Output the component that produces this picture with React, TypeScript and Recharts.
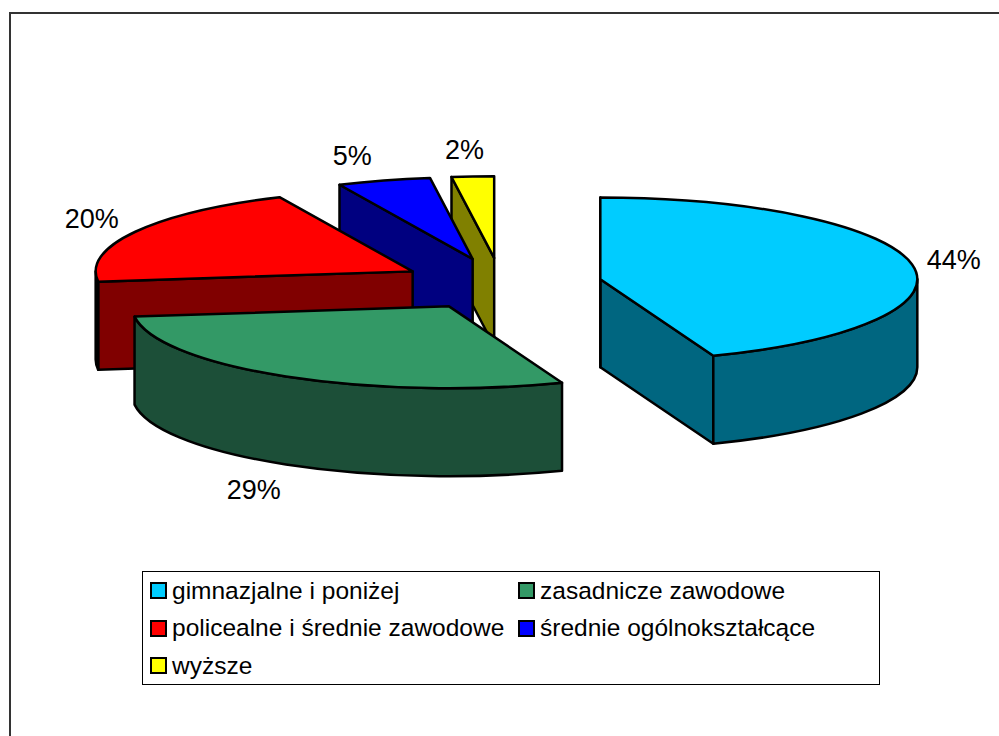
import { Legend, Pie, PieChart } from "recharts";

// drawn back to front, so the order is the reverse of the legend
const categories = [
  "wyższe",
  "średnie ogólnokształcące",
  "policealne i średnie zawodowe",
  "zasadnicze zawodowe",
  "gimnazjalne i poniżej",
];
// the labels show them rounded
const shares = [2.15, 4.75, 20.1, 28.8, 44.2];
const topColors = ["#FFFF00", "#0000FF", "#FF0000", "#339966", "#00CCFF"];
const sideColors = ["#808000", "#000080", "#800000", "#1C4F38", "#006680"];

const legendOrder = [4, 3, 2, 1, 0];

const data = categories.map((name, i) => ({
  name,
  value: shares[i],
  fill: topColors[i],
  side: sideColors[i],
}));

const FONT = "'Liberation Sans', Arial, sans-serif";
const SQUASH = 0.258;
const DEPTH = 88;
const EXPLODE = 0.3186;
const RAD = Math.PI / 180;

// the pie is squashed into an ellipse, each slice pulled out along its middle
function geometry(props: any) {
  const { cx, cy, outerRadius, startAngle, endAngle } = props;
  let a1 = 90 - endAngle;
  let a2 = 90 - startAngle;
  if (a1 < 0) {
    a1 += 360;
    a2 += 360;
  }
  const rx = outerRadius;
  const ry = outerRadius * SQUASH;
  const mid = ((a1 + a2) / 2) * RAD;
  const ax = cx + rx * EXPLODE * Math.sin(mid);
  const ay = cy - ry * EXPLODE * Math.cos(mid);
  const at = (deg: number) => ({
    x: ax + rx * Math.sin(deg * RAD),
    y: ay - ry * Math.cos(deg * RAD),
  });
  return { a1, a2, rx, ry, ax, ay, at, mid };
}

function Slice3D(props: any) {
  const { a1, a2, rx, ry, ax, ay, at } = geometry(props);
  const fill = props.fill;
  const side = props.payload?.side ?? props.side;
  const line = { stroke: "#000", strokeWidth: 2.5, strokeLinejoin: "round" as const };

  const wall = (deg: number) => {
    const p = at(deg);
    return `M${ax},${ay} L${p.x},${p.y} L${p.x},${p.y + DEPTH} L${ax},${ay + DEPTH} Z`;
  };

  // only the lower half of the rim can be seen
  const from = Math.max(a1, 90);
  const to = Math.min(a2, 270);
  let rim = "";
  if (to > from) {
    const p = at(from);
    const q = at(to);
    rim =
      `M${p.x},${p.y} A${rx},${ry} 0 0 1 ${q.x},${q.y} ` +
      `L${q.x},${q.y + DEPTH} A${rx},${ry} 0 0 0 ${p.x},${p.y + DEPTH} Z`;
  }

  const p1 = at(a1);
  const p2 = at(a2);
  const large = a2 - a1 > 180 ? 1 : 0;
  const top = `M${ax},${ay} L${p1.x},${p1.y} A${rx},${ry} 0 ${large} 1 ${p2.x},${p2.y} Z`;

  return (
    <g>
      {Math.sin(a1 * RAD) < -0.001 && <path d={wall(a1)} fill={side} {...line} />}
      {Math.sin(a2 * RAD) > 0.001 && <path d={wall(a2)} fill={side} {...line} />}
      {Math.abs(a1) < 0.001 && <path d={wall(a1)} fill={side} {...line} />}
      {rim && <path d={rim} fill={side} {...line} />}
      <path d={top} fill={fill} {...line} />
    </g>
  );
}

function SliceLabel(props: any) {
  const { at, a1, a2, mid } = geometry(props);
  const deg = (a1 + a2) / 2;
  const edge = at(deg);
  const sin = Math.sin(mid);
  const cos = Math.cos(mid);
  const spread = Math.max(-1, Math.min(1, sin * 4));
  // upper-left labels sit a little further out
  const lean = cos > 0 ? 4 * Math.min(0, spread) : 0;
  const x = edge.x + sin * 20 + spread * 22 + lean;
  const y = edge.y + (cos < 0 ? DEPTH + 3 : 0) - cos * 26;
  return (
    <text
      x={x}
      y={y}
      textAnchor="middle"
      dominantBaseline="central"
      fontFamily={FONT}
      fontSize={27}
      fill="#000"
    >
      {`${Math.round(props.value)}%`}
    </text>
  );
}

function BoxLegend() {
  return (
    <div
      style={{
        boxSizing: "border-box",
        width: 738,
        height: 114,
        border: "1px solid #000",
        background: "#fff",
        position: "relative",
        fontFamily: FONT,
        fontSize: 24.5,
        color: "#000",
      }}
    >
      {legendOrder.map((idx, i) => {
        const col = i % 2;
        const row = Math.floor(i / 2);
        return (
          <div
            key={categories[idx]}
            style={{
              position: "absolute",
              left: col === 0 ? 7 : 375,
              top: row * 37.5,
              height: 37,
              display: "flex",
              alignItems: "center",
              whiteSpace: "nowrap",
            }}
          >
            <span
              style={{
                boxSizing: "border-box",
                display: "inline-block",
                width: 17,
                height: 17,
                border: "2px solid #000",
                background: topColors[idx],
                marginRight: 5,
              }}
            />
            {categories[idx]}
          </div>
        );
      })}
    </div>
  );
}

export default function App() {
  return (
    <div
      style={{
        position: "fixed",
        left: 0,
        top: 0,
        width: 999,
        height: 736,
        overflow: "hidden",
        background: "#fff",
      }}
    >
      {/* only the top and left of the frame fall inside the picture */}
      <div
        style={{
          position: "absolute",
          left: 9,
          top: 12,
          width: 1200,
          height: 1200,
          borderTop: "2px solid #333",
          borderLeft: "2px solid #333",
        }}
      />
      <PieChart
        width={999}
        height={736}
        margin={{ top: 0, right: 0, bottom: 0, left: 0 }}
        style={{ position: "absolute", left: 0, top: 0 }}
      >
        <Pie
          data={data}
          dataKey="value"
          nameKey="name"
          cx={501}
          cy={284}
          innerRadius={0}
          outerRadius={317}
          startAngle={90}
          endAngle={450}
          stroke="none"
          shape={Slice3D}
          label={SliceLabel}
          labelLine={false}
          isAnimationActive={false}
        />
        <Legend
          content={<BoxLegend />}
          wrapperStyle={{ position: "absolute", left: 142, top: 571, width: 738, height: 114, bottom: "auto" }}
        />
      </PieChart>
    </div>
  );
}
